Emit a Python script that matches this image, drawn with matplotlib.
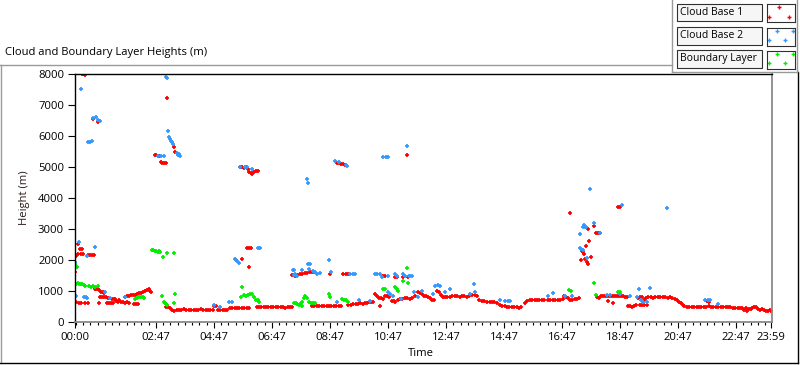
import numpy as np
import matplotlib
matplotlib.use('Agg')
import matplotlib.pyplot as plt
from matplotlib.lines import Line2D
from matplotlib.patches import Rectangle

plt.rcParams['font.family'] = ['Open Sans', 'DejaVu Sans']

# time in minutes since 00:00, heights in metres
# Cloud Base 1 (red)
red_time = [0, 3, 8, 13, 20, 26, 49, 41, 44, 48, 50, 53, 57, 60, 52, 56, 60, 64, 68, 66, 70, 74, 78, 77, 80, 83,
            84, 88, 92, 96, 100, 104, 108, 112, 104, 108, 112, 116, 120, 124, 128, 132, 122, 126, 130, 136, 140, 144, 148, 152, 155, 158,
            188, 192, 196, 200, 204, 210, 215, 220, 225, 230, 235, 240, 245, 250, 255, 260, 265, 270, 275, 280, 285,
            287, 291, 295, 300, 305, 310, 315, 320, 325, 330, 335, 340, 345, 350, 355, 360,
            376, 380, 385, 390, 395, 400, 405, 410, 415, 420, 425, 430, 435, 440, 445, 449,
            490, 495, 500, 505, 510, 515, 520, 525, 530, 535, 540, 545, 550, 565, 570, 575, 580, 585, 590, 595, 600, 604, 608, 612, 617,
            620, 624, 628, 632, 636, 631, 641, 645, 650, 655, 660, 662, 667, 672, 677, 682, 687, 692, 697, 703, 709, 714, 718, 722, 726, 730, 734, 738, 743,
            749, 753, 757, 761, 765, 770, 776, 780, 785, 790, 795, 800, 805, 810, 815, 821, 826, 831, 836, 841, 846, 852, 857, 862, 867, 873, 878,
            883, 888, 893, 898, 903, 908, 913, 918, 923, 930, 935, 940, 945, 950, 955, 960, 965, 970, 978, 983, 988, 993, 998, 1003, 1008,
            1012, 1016, 1020, 1024, 1028, 1033, 1038, 1042, 1080, 1084, 1088, 1092, 1096, 1100, 1104, 1108, 1112, 1116, 1120, 1124, 1128, 1133, 1137, 1141, 1102, 1112,
            1144, 1148, 1152, 1156, 1160, 1168, 1172, 1177, 1182, 1164, 1168, 1172, 1176, 1180, 1185, 1190, 1195, 1200, 1205, 1210, 1215, 1220, 1225, 1230, 1235,
            1240, 1244, 1248, 1252, 1256, 1260, 1265, 1270, 1275, 1280, 1285, 1290, 1295, 1300, 1305, 1310, 1315, 1320, 1325, 1330, 1335, 1340, 1345, 1350,
            1355, 1360, 1365, 1370, 1375, 1380, 1384, 1387, 1390, 1393, 1397, 1400, 1404, 1408, 1412, 1416, 1420, 1424, 1428, 1432, 1436, 1439, 1307, 1311,
            14, 17, 20, 38, 48, 190, 165, 168, 171, 174, 177, 180, 184, 188, 205, 207,
            341, 345, 349, 353, 357, 360, 363, 366, 370, 374, 378, 541, 545, 550, 555, 558, 686,
            0, 3, 7, 10, 14, 7, 12, 17, 27, 31, 35, 39, 332, 345, 356, 360, 364, 359,
            449, 455, 460, 465, 470, 475, 480, 485, 490, 494, 527, 555, 560, 565, 637, 641, 662, 666, 678, 689,
            1024, 1046, 1049, 1051, 1053, 1055, 1058, 1061, 1057, 1061, 1063, 1067, 1073, 1078, 1082, 1086, 1123, 1127]
red_height = [655, 640, 620, 615, 615, 610, 613, 1064, 1064, 1050, 1040, 955, 955, 950, 806, 800, 800, 794, 790, 613, 613, 613, 613, 742, 742, 742,
              680, 660, 700, 650, 640, 620, 640, 620, 820, 830, 850, 860, 870, 880, 900, 920, 590, 590, 580, 950, 960, 990, 1020, 1064, 1010, 960,
              480, 470, 440, 400, 370, 400, 395, 400, 405, 400, 395, 400, 400, 395, 400, 405, 400, 400, 395, 400, 390,
              520, 510, 400, 400, 395, 400, 400, 440, 440, 445, 440, 440, 440, 445, 440, 450,
              470, 480, 490, 500, 500, 490, 500, 490, 480, 470, 480, 470, 460, 470, 480, 500,
              526, 526, 526, 526, 526, 526, 526, 526, 526, 526, 526, 526, 526, 560, 560, 580, 580, 580, 600, 580, 600, 620, 640, 630, 640,
              903, 850, 780, 760, 740, 526, 848, 840, 800, 690, 690, 632, 700, 740, 740, 760, 760, 740, 760, 848, 955, 950, 900, 850, 850, 820, 780, 719, 720,
              1010, 980, 880, 820, 816, 816, 810, 826, 830, 830, 820, 840, 830, 820, 830, 881, 881, 830, 700, 687, 687, 660, 632, 632, 632, 600, 560,
              526, 510, 494, 494, 494, 494, 480, 460, 470, 600, 680, 700, 700, 719, 719, 700, 719, 700, 719, 719, 700, 720, 719, 719, 740,
              826, 800, 760, 719, 719, 730, 740, 760, 794, 780, 826, 826, 830, 826, 840, 850, 840, 850, 840, 830, 850, 826, 800, 800, 680, 620,
              526, 520, 500, 520, 540, 548, 548, 548, 548, 760, 800, 820, 720, 780, 800, 800, 760, 794, 794, 794, 794, 794, 790, 794, 780,
              740, 700, 650, 600, 550, 510, 494, 494, 494, 494, 494, 494, 494, 494, 500, 510, 494, 494, 494, 494, 494, 494, 494, 494,
              470, 450, 452, 460, 460, 452, 400, 460, 350, 430, 420, 450, 490, 470, 430, 400, 430, 380, 360, 370, 400, 370, 690, 630,
              7990, 7990, 7980, 6550, 6460, 7225, 5375, 5380, 5370, 5360, 5150, 5140, 5140, 5140, 5630, 5500,
              4990, 4990, 4970, 4990, 4920, 4850, 4800, 4780, 4850, 4870, 4860, 5130, 5130, 5110, 5100, 5060, 5390,
              1600, 2140, 2516, 2355, 2355, 2190, 2190, 2190, 2170, 2170, 2170, 2170, 2010, 2030, 2390, 2380, 2390, 1762,
              1516, 1500, 1530, 1548, 1560, 1580, 1580, 1600, 1620, 1600, 1548, 1548, 1560, 1548, 1494, 1484, 1440, 1440, 1440, 1440,
              3517, 2010, 2300, 2250, 2200, 2040, 1950, 1880, 2461, 3010, 2623, 2106, 3106, 2858, 2858, 2858, 3720, 3720]

# Cloud Base 2 (blue)
blue_time = [12, 27, 31, 35, 38, 43, 48, 52, 188, 190, 192, 194, 196, 198, 200, 203, 210, 212, 215, 217, 172, 178, 184,
             341, 352, 355, 366, 479, 481, 538, 545, 560, 562, 637, 642, 647, 686,
             331, 335, 339, 379, 383, 451, 455, 459, 469, 482, 486, 484, 492, 496, 500, 507, 526, 529, 569, 575, 579,
             620, 625, 630, 635, 648, 662, 666, 678, 682, 690, 697, 693, 745, 750, 755, 776, 824,
             8, 42, 25, 0, 2, 19, 22, 25, 63, 73, 104, 287, 300, 318, 325, 452, 452,
             541, 588, 610, 648, 652, 658, 675, 700, 709, 717, 741, 765, 817, 827, 879, 889, 895, 900,
             977, 989, 1013, 1027, 1100, 1106, 1127, 1147, 1165, 1162, 1170, 1175, 1183, 1189, 1303, 1308, 1313, 1330,
             1044, 1051, 1054, 1086, 1044, 1047, 1050, 1058, 1065, 1131, 1224, 1074, 1053, 1057]
blue_height = [7520, 5800, 5820, 5830, 6580, 6600, 6520, 6490, 7900, 7880, 6160, 5960, 5900, 5850, 5800, 5740, 5440, 5400, 5420, 5370, 5365, 5365, 5365,
               5000, 5010, 5000, 4930, 4610, 4500, 5200, 5160, 5050, 5030, 5330, 5330, 5330, 5680,
               2030, 1960, 1900, 2390, 2390, 1680, 1540, 1494, 1680, 1870, 1870, 1720, 1650, 1600, 1550, 1580, 2000, 1620, 1548, 1548, 1548,
               1548, 1560, 1540, 1440, 1480, 1560, 1500, 1560, 1500, 1470, 1470, 1494, 1171, 1190, 1171, 1064, 1226,
               2590, 2420, 2140, 1920, 848, 816, 800, 784, 955, 761, 816, 548, 494, 655, 655, 1690, 1516,
               655, 719, 690, 955, 900, 848, 740, 977, 816, 1010, 903, 955, 903, 977, 719, 687, 687, 687,
               848, 935, 848, 826, 871, 871, 903, 826, 1064, 794, 700, 640, 632, 1097, 719, 719, 719, 580,
               2840, 3050, 3050, 2870, 2400, 2360, 2330, 2070, 4290, 3775, 3680, 3190, 3140, 3050]

# Boundary Layer (green)
green_time = [0, 2, 4, 0, 3, 6, 9, 12, 15, 18, 21, 29, 33, 37, 41, 48,
              124, 128, 132, 136, 140, 143, 159, 162, 165, 168, 171, 174, 176, 182, 190, 205, 180, 183, 186, 188, 190, 207, 205,
              343, 345, 350, 354, 358, 362, 366, 370, 374, 378, 380, 452, 456, 460, 464, 469,
              465, 470, 474, 476, 480, 484, 488, 492, 497, 526, 527, 552, 556, 560, 565,
              637, 641, 662, 665, 668, 679, 686, 688, 1022, 1026, 1074, 1077, 1123, 1127]
green_height = [1870, 1800, 1760, 1260, 1240, 1250, 1230, 1240, 1220, 1200, 1170, 1150, 1130, 1150, 1115, 1150,
                742, 780, 794, 800, 794, 760, 2330, 2320, 2300, 2280, 2260, 2280, 2245, 2085, 2225, 2225, 848, 632, 600, 580, 548, 903, 620,
                794, 1115, 871, 850, 880, 900, 903, 794, 719, 700, 655, 613, 600, 580, 560, 526,
                580, 650, 760, 848, 760, 650, 600, 610, 600, 903, 794, 742, 720, 700, 655,
                1064, 1064, 1115, 1060, 1010, 1332, 1742, 1258, 1040, 1000, 1258, 881, 955, 955]

tick_labels = ['00:00', '02:47', '04:47', '06:47', '08:47', '10:47', '12:47',
               '14:47', '16:47', '18:47', '20:47', '22:47', '23:59']
series_names = ['Cloud Base 1', 'Cloud Base 2', 'Boundary Layer']
colors = ['#ff0000', '#3399ff', '#00ee00']

W, H = 800, 365
def fx(x):
    return x / W
def fy(y):
    return 1 - y / H

FS = 8.1
fig = plt.figure(figsize=(8, 3.65), dpi=100)
ax = fig.add_axes([fx(75), fy(322), fx(772) - fx(75), fy(74) - fy(322)])

for t, h, c in [(red_time, red_height, colors[0]), (blue_time, blue_height, colors[1]), (green_time, green_height, colors[2])]:
    ax.plot(t, h, linestyle='none', marker='+', ms=3.5, mew=1.25, color=c)

ax.set_xlim(0, 1441)
ax.set_ylim(0, 8000)
major = [int(s[:2]) * 60 + int(s[3:]) for s in tick_labels]
ax.set_xticks(major)
ax.set_xticklabels(tick_labels)
ax.set_xticks(np.arange(2, 1440, 15), minor=True)
ax.set_yticks(np.arange(0, 8001, 1000))
ax.tick_params(axis='x', which='major', length=4.5, width=0.8, pad=3, labelsize=FS)
ax.tick_params(axis='x', which='minor', length=2, width=0.8)
ax.tick_params(axis='y', which='major', length=5, width=0.8, pad=3, labelsize=FS)

for s in ['left', 'top']:
    ax.spines[s].set_color('black')
    ax.spines[s].set_linewidth(1.0)
for s in ['right', 'bottom']:
    ax.spines[s].set_color('#8a8a8a')
    ax.spines[s].set_linewidth(1.3)

ax.set_ylabel('Height (m)', fontsize=FS, color='#2a1a1a')
ax.yaxis.set_label_coords((30 - 75) / 697, 0.5)
ax.set_xlabel('Time', fontsize=FS)
ax.xaxis.set_label_coords((421 - 75) / 697, (322 - 348) / 248)

fig.text(fx(5), fy(53), 'Cloud and Boundary Layer Heights (m)', fontsize=FS, ha='left', va='center')

# panel frame
def line(x0, y0, x1, y1, c, lw=1.0):
    fig.add_artist(Line2D([fx(x0), fx(x1)], [fy(y0), fy(y1)], color=c, lw=lw, transform=fig.transFigure))

line(0, 64.5, 672, 64.5, '#9a9a9a')
line(0.5, 64.5, 0.5, 363, '#9a9a9a')
line(0, 363, 798, 363, 'black')
line(798, 72, 798, 363, 'black')
line(672, 0, 672, 72, '#9a9a9a')
line(672, 72, 797, 72, '#9a9a9a')
line(797, 0, 797, 72, '#9a9a9a')

# legend: label box + small icon box per series
row_tops = [4, 27.5, 50.5]
for i, name in enumerate(series_names):
    top = row_tops[i]
    fig.add_artist(Rectangle((fx(677), fy(top + 17)), fx(762) - fx(677), fy(top) - fy(top + 17),
                             transform=fig.transFigure, fc='#f6f6f6', ec='#303030', lw=0.8))
    fig.text(fx(679.5), fy(top + 8.5), name, fontsize=7.5, ha='left', va='center')
    ia = fig.add_axes([fx(767), fy(top + 18), fx(795) - fx(767), fy(top) - fy(top + 18)])
    ia.set_zorder(5)
    ia.set_xlim(0, 1)
    ia.set_ylim(0, 1)
    ia.set_xticks([])
    ia.set_yticks([])
    for s in ia.spines.values():
        s.set_color('#303030')
        s.set_linewidth(0.8)
    if i == 0:
        ia.plot([0.43, 0.08, 0.8], [0.82, 0.26, 0.26], linestyle='none', marker='+', ms=3.2, mew=1.0, color=colors[i])
    else:
        ia.plot([0.36, 0.94, 0.08, 0.65], [0.83, 0.83, 0.3, 0.3], linestyle='none', marker='+', ms=3.2, mew=1.0, color=colors[i])

fig.savefig('out.png', dpi=100)
